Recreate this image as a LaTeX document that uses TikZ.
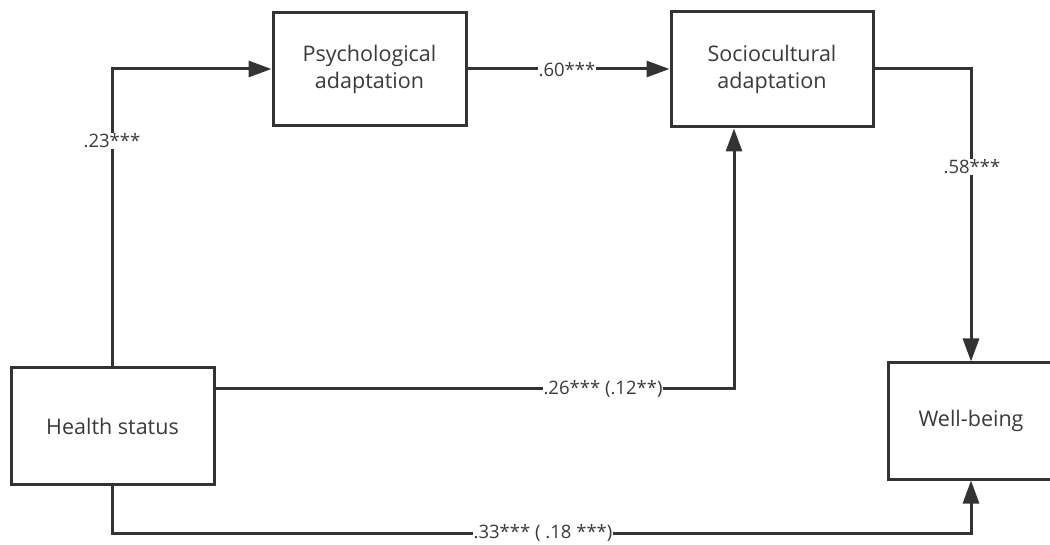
\documentclass[tikz,border=0pt]{standalone}
\usepackage{fontspec}
\setmainfont{Open Sans}
\usetikzlibrary{arrows.meta,calc}
\definecolor{ink}{HTML}{333333}
\definecolor{txt}{HTML}{3A3A3A}
\tikzset{
  box/.style={draw=ink, line width=3pt, fill=white, text=txt, align=center,
    font=\fontsize{21.5}{27}\selectfont, inner sep=0pt},
  link/.style={draw=ink, line width=3pt, line join=miter},
  arr/.style={link, -{Triangle[length=23pt,width=16pt]}},
  coef/.style={fill=white, text=txt, inner sep=1pt, font=\fontsize{18.5}{20}\selectfont}
}
\begin{document}
\begin{tikzpicture}[x=1pt,y=-1pt]
\useasboundingbox (0,0) rectangle (1050,545);
\clip (0,0) rectangle (1050,545);
% variables
\node[box, minimum width=193pt, minimum height=113pt] (psy) at (369.5,69.5) {Psychological\\adaptation};
\node[box, minimum width=202pt, minimum height=115pt] (soc) at (772,69.5) {Sociocultural\\adaptation};
\node[box, minimum width=203pt, minimum height=116pt] (hea) at (112.5,426) {Health status};
\node[box, minimum width=166pt, minimum height=116pt] (wel) at (971,421) {Well-being};
% paths
\coordinate (c1) at (112,69);
\coordinate (c2) at (734,389);
\coordinate (c3) at (971,69);
\coordinate (c4) at (112,533);
\coordinate (c5) at (971,533);
\draw[arr] (hea.north -| c1) -- (c1) -- (psy.west |- c1);
\draw[arr] (psy.east |- c1) -- (soc.west |- c1);
\draw[arr] (hea.east |- c2) -- (c2) -- (soc.south -| c2);
\draw[arr] (soc.east |- c3) -- (c3) -- (wel.north -| c3);
\draw[arr] (hea.south -| c4) -- (c4) -- (c5) -- (wel.south -| c5);
% path coefficients
\node[coef] (l1) at (112,141) {.23***};
\node[coef] (l2) at (567,70) {.60***};
\node[coef] (l3) at (603,389) {.26*** (.12**)};
\node[coef] (l4) at (972,167) {.58***};
\node[coef] (l5) at (543,533) {.33*** ( .18 ***)};
\end{tikzpicture}
\end{document}
